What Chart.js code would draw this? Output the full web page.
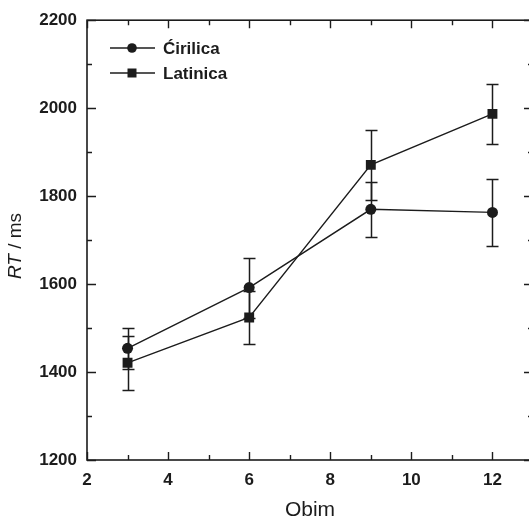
<!DOCTYPE html>
<html>
<head>
<meta charset="utf-8">
<script src="https://cdn.jsdelivr.net/npm/chart.js@4"></script>
<style>
  html, body { margin: 0; padding: 0; background: #fff; overflow: hidden; }
  #wrap { width: 529px; height: 524px; overflow: hidden; }
</style>
</head>
<body>
<div id="wrap"><canvas id="c" width="540" height="524"></canvas></div>
<script>
// podaci
const obim = [3, 6, 9, 12];
const cirilica = [1454, 1592, 1770, 1763];
const cirilicaErr = [47, 68, 63, 77];
const latinica = [1421, 1524, 1871, 1987];
const latinicaErr = [62, 60, 79, 68];

const ink = "#1c1c1c";
const FONT = "'Liberation Sans', Arial, sans-serif";

const series = [
  { label: "Ćirilica", y: cirilica, err: cirilicaErr, style: "circle", r: 5.5 },
  { label: "Latinica", y: latinica, err: latinicaErr, style: "rect", r: 7 }
];

function drawMarker(ctx, style, x, y, r) {
  ctx.fillStyle = ink;
  ctx.beginPath();
  if (style === "circle") {
    ctx.arc(x, y, r, 0, Math.PI * 2);
  } else {
    ctx.rect(x - r, y - r, r * 2, r * 2);
  }
  ctx.fill();
}

// error bars, okvir, tickovi, legenda, naslovi osa
const extras = {
  id: "extras",
  beforeDatasetsDraw(chart) {
    const ctx = chart.ctx, xs = chart.scales.x, ys = chart.scales.y;
    ctx.save();
    ctx.strokeStyle = ink;
    ctx.lineWidth = 1.5;
    series.forEach(s => {
      obim.forEach((v, i) => {
        const px = Math.round(xs.getPixelForValue(v)) + 0.5;
        const top = Math.round(ys.getPixelForValue(s.y[i] + s.err[i])) + 0.5;
        const bot = Math.round(ys.getPixelForValue(s.y[i] - s.err[i])) + 0.5;
        ctx.beginPath();
        ctx.moveTo(px, top); ctx.lineTo(px, bot);
        ctx.moveTo(px - 6, top); ctx.lineTo(px + 6, top);
        ctx.moveTo(px - 6, bot); ctx.lineTo(px + 6, bot);
        ctx.stroke();
      });
    });
    ctx.restore();
  },
  afterDraw(chart) {
    const ctx = chart.ctx, a = chart.chartArea, xs = chart.scales.x, ys = chart.scales.y;
    ctx.save();
    ctx.strokeStyle = ink;
    ctx.lineWidth = 1.6;
    ctx.strokeRect(a.left, a.top, a.right - a.left, a.bottom - a.top);

    ctx.lineWidth = 1.4;
    ctx.beginPath();
    for (let v = 2; v <= 13; v++) {
      const px = Math.round(xs.getPixelForValue(v)) + 0.5;
      const len = v % 2 === 0 ? 8 : 5;
      ctx.moveTo(px, a.bottom); ctx.lineTo(px, a.bottom - len);
      ctx.moveTo(px, a.top); ctx.lineTo(px, a.top + len);
    }
    for (let v = 1200; v <= 2200; v += 100) {
      const py = Math.round(ys.getPixelForValue(v)) + 0.5;
      const len = v % 200 === 0 ? 9 : 5;
      ctx.moveTo(a.left, py); ctx.lineTo(a.left + len, py);
      ctx.moveTo(a.right, py); ctx.lineTo(a.right - len, py);
    }
    ctx.stroke();

    // legenda
    const legY = [48, 73];
    series.forEach((s, i) => {
      ctx.lineWidth = 1.4;
      ctx.beginPath();
      ctx.moveTo(110, legY[i]); ctx.lineTo(155, legY[i]);
      ctx.stroke();
      drawMarker(ctx, s.style, 132, legY[i], s.style === "circle" ? 4.8 : 4.5);
      ctx.fillStyle = ink;
      ctx.font = "bold 17px " + FONT;
      ctx.textAlign = "left";
      ctx.textBaseline = "middle";
      ctx.fillText(s.label, 163, legY[i] + 1);
    });

    // naslov x ose
    ctx.fillStyle = ink;
    ctx.font = "21px " + FONT;
    ctx.textAlign = "center";
    ctx.textBaseline = "middle";
    ctx.fillText("Obim", (a.left + a.right) / 2, 510);

    // naslov y ose: RT kurzivom
    ctx.translate(16, 246);
    ctx.rotate(-Math.PI / 2);
    ctx.textAlign = "left";
    const it = "italic 19px " + FONT, rg = "19px " + FONT;
    ctx.font = it; const w1 = ctx.measureText("RT").width;
    ctx.font = rg; const w2 = ctx.measureText(" / ms").width;
    const x0 = -(w1 + w2) / 2;
    ctx.font = it; ctx.fillText("RT", x0, 0);
    ctx.font = rg; ctx.fillText(" / ms", x0 + w1, 0);
    ctx.restore();
  }
};

new Chart(document.getElementById("c"), {
  type: "scatter",
  data: {
    datasets: series.map(s => ({
      label: s.label,
      data: obim.map((x, i) => ({ x: x, y: s.y[i] })),
      showLine: true,
      borderColor: ink,
      backgroundColor: ink,
      borderWidth: 1.4,
      pointStyle: s.style,
      pointRadius: s.r,
      pointBorderWidth: 0
    }))
  },
  options: {
    responsive: false,
    animation: false,
    devicePixelRatio: 1,
    layout: { padding: { top: 15, right: 4, left: 0, bottom: 0 } },
    plugins: { legend: { display: false }, tooltip: { enabled: false } },
    scales: {
      x: {
        type: "linear", min: 2, max: 13,
        grid: { display: false, drawTicks: false },
        border: { display: false },
        ticks: { stepSize: 2, includeBounds: false, padding: 10, color: ink,
                 callback: v => String(v),
                 font: { family: FONT, size: 17, weight: "bold" } },
        afterFit(scale) { scale.height = 64; }
      },
      y: {
        min: 1200, max: 2200,
        grid: { display: false, drawTicks: false },
        border: { display: false },
        ticks: { stepSize: 200, padding: 10, color: ink,
                 callback: v => String(v),
                 font: { family: FONT, size: 17, weight: "bold" } },
        afterFit(scale) { scale.width = 87; }
      }
    }
  },
  plugins: [extras]
});
</script>
</body>
</html>
